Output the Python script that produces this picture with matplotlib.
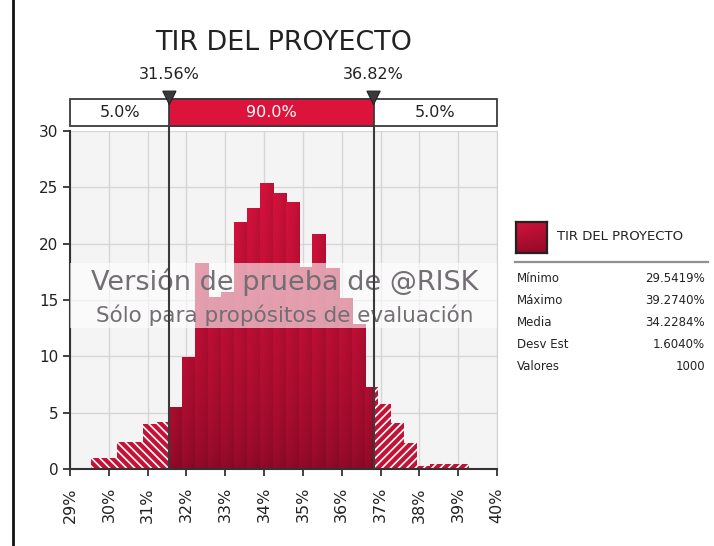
import numpy as np
import matplotlib
matplotlib.use("Agg")
import matplotlib.pyplot as plt
from matplotlib.patches import Rectangle, Polygon
from matplotlib.transforms import blended_transform_factory
from matplotlib.lines import Line2D

# ---------------- data ----------------
title = "TIR DEL PROYECTO"
x_min_val = 29.5419
x_max_val = 39.2740
n_bins = 29
density = [1.0, 1.0, 2.4, 2.4, 4.0, 4.2, 5.5, 9.9, 18.3, 15.3, 15.7, 21.9,
           23.2, 25.4, 24.5, 23.7, 17.9, 20.9, 17.8, 15.2, 12.9, 7.3, 5.8,
           4.1, 2.3, 0.3, 0.45, 0.45, 0.45]
lo_pct, hi_pct = 31.56, 36.82
lo_label, hi_label = "31.56%", "36.82%"
band_labels = ["5.0%", "90.0%", "5.0%"]
xticks = list(range(29, 41))
xtick_labels = [f"{t}%" for t in xticks]
yticks = [0, 5, 10, 15, 20, 25, 30]
stat_names = ["Mínimo", "Máximo", "Media", "Desv Est", "Valores"]
stat_values = ["29.5419%", "39.2740%", "34.2284%", "1.6040%", "1000"]
wm_line1 = "Versión de prueba de @RISK"
wm_line2 = "Sólo para propósitos de evaluación"

# ---------------- styling ----------------
plt.rcParams["font.family"] = ["DejaVu Sans"]
plt.rcParams["hatch.linewidth"] = 1.2
W, H = 714, 546
fig = plt.figure(figsize=(W / 100, H / 100), dpi=100, facecolor="white")

ax_l, ax_r, ax_t, ax_b = 70, 497, 131, 469
ax = fig.add_axes([ax_l / W, 1 - ax_b / H, (ax_r - ax_l) / W, (ax_b - ax_t) / H])
ax.set_facecolor("#f4f4f4")

bright = np.array([214, 18, 60]) / 255
dark = np.array([145, 10, 40]) / 255
ny, nx = 80, 16
t = np.linspace(0, 1, ny)[:, None]
u = np.linspace(0, 1, nx)[None, :]
vert = dark + (bright - dark) * (t ** 0.6)[..., None]
hfac = (1.0 - 0.12 * u ** 1.5)[..., None]
grad = np.clip(vert * hfac, 0, 1)
grad_top = 26.0

edges = np.linspace(x_min_val, x_max_val, n_bins + 1)
for i, h in enumerate(density):
    e0, e1 = edges[i], edges[i + 1]
    s0, s1 = max(e0, lo_pct), min(e1, hi_pct)
    if s1 > s0:
        b = ax.bar(s0, h, width=s1 - s0, align="edge", color="#b80e30",
                   linewidth=0, zorder=2)[0]
        im = ax.imshow(grad, extent=[s0, s1, 0, grad_top], aspect="auto",
                       origin="lower", zorder=2.1, interpolation="bilinear")
        im.set_clip_path(b)
    if e0 < lo_pct:
        ax.bar(e0, h, width=min(e1, lo_pct) - e0, align="edge",
               color="#c41236", edgecolor="white", linewidth=0,
               hatch="\\\\\\\\", zorder=2)
    if e1 > hi_pct:
        a0 = max(e0, hi_pct)
        ax.bar(a0, h, width=e1 - a0, align="edge", color="#c41236",
               edgecolor="white", linewidth=0, hatch="////", zorder=2)

ax.set_xlim(29, 40)
ax.set_ylim(0, 30)
ax.set_xticks(xticks)
ax.set_xticklabels(xtick_labels, rotation=90, fontsize=11.5, color="#222222")
ax.set_yticks(yticks)
ax.set_yticklabels([str(v) for v in yticks], fontsize=11, color="#222222")
ax.grid(True, color="#d6d6d6", linewidth=1.0, zorder=0)
ax.set_axisbelow(True)
ax.tick_params(axis="both", direction="out", length=5, width=1.3, color="#333333")
ax.tick_params(axis="x", pad=8)
for s in ["left", "bottom"]:
    ax.spines[s].set_color("#333333")
    ax.spines[s].set_linewidth(1.5)
ax.spines["top"].set_visible(False)
ax.spines["right"].set_color("#d0d0d0")

tr = blended_transform_factory(ax.transData, ax.transAxes)

# watermark band
ax.add_patch(Rectangle((0, 0.417), 1, 0.192, transform=ax.transAxes,
                       facecolor="white", alpha=0.6, linewidth=0, zorder=3))
ax.text(0.503, 0.553, wm_line1, transform=ax.transAxes, ha="center", va="center",
        fontsize=19.5, color="#736e74", zorder=4)
ax.text(0.503, 0.456, wm_line2, transform=ax.transAxes, ha="center", va="center",
        fontsize=15.5, color="#736e74", zorder=4)

# delimiter lines
for xv in (lo_pct, hi_pct):
    ax.add_line(Line2D([xv, xv], [0, 1.0148], transform=tr, color="#3a3a3a",
                       linewidth=1.5, clip_on=False, zorder=5))

# probability band
b_bot, b_top = 1.0148, 1.0947
ax.add_patch(Rectangle((29, b_bot), 11, b_top - b_bot, transform=tr,
                       facecolor="white", edgecolor="#3a3a3a", linewidth=1.3,
                       clip_on=False, zorder=5))
ax.add_patch(Rectangle((lo_pct, b_bot), hi_pct - lo_pct, b_top - b_bot, transform=tr,
                       facecolor="#dc143c", edgecolor="#3a3a3a", linewidth=1.3,
                       clip_on=False, zorder=5))
bmid = (b_bot + b_top) / 2
ax.text((29 + lo_pct) / 2, bmid, band_labels[0], transform=tr, ha="center",
        va="center", fontsize=11.5, color="#222222", zorder=6)
ax.text((lo_pct + hi_pct) / 2, bmid, band_labels[1], transform=tr, ha="center",
        va="center", fontsize=11.5, color="white", zorder=6)
ax.text((hi_pct + 40) / 2, bmid, band_labels[2], transform=tr, ha="center",
        va="center", fontsize=11.5, color="#222222", zorder=6)

# markers + labels
for xv, lab in ((lo_pct, lo_label), (hi_pct, hi_label)):
    ax.add_patch(Polygon([(xv - 0.17, 1.118), (xv + 0.17, 1.118), (xv, 1.078)],
                         closed=True, transform=tr, facecolor="#3a3a3a",
                         edgecolor="#222222", linewidth=0.8, clip_on=False, zorder=7))
    ax.text(xv, 1.166, lab, transform=tr, ha="center", va="center",
            fontsize=11.5, color="#222222")

# title
fig.text(284 / W, 1 - 43 / H, title, ha="center", va="center", fontsize=19.4,
         color="#222222")

# legend swatch
sw = fig.add_axes([516 / W, 1 - 253 / H, 31 / W, 31 / H])
sw_grad = np.clip(dark + (bright - dark) * (np.linspace(0, 1, 40)[:, None] ** 0.8
                  * (1 - 0.35 * np.linspace(0, 1, 40)[None, :]))[..., None], 0, 1)
sw.imshow(sw_grad, origin="lower", aspect="auto", interpolation="bilinear")
sw.set_xticks([])
sw.set_yticks([])
for s in sw.spines.values():
    s.set_color("#222222")
    s.set_linewidth(1.6)
fig.text(557 / W, 1 - 236 / H, title, ha="left", va="center", fontsize=9.5,
         color="#222222")
fig.add_artist(Line2D([515 / W, 708 / W], [1 - 262 / H, 1 - 262 / H],
                      color="#909090", linewidth=1.6))
row_y = [278, 300, 322, 344, 366]
for name, val, yy in zip(stat_names, stat_values, row_y):
    fig.text(517 / W, 1 - yy / H, name, ha="left", va="center", fontsize=8.5,
             color="#222222")
    fig.text(705 / W, 1 - yy / H, val, ha="right", va="center", fontsize=8.5,
             color="#222222")

# window border on the left
fig.add_artist(Line2D([12.5 / W, 12.5 / W], [0, 1], color="#111111", linewidth=2))

fig.savefig("out.png", dpi=100, facecolor="white")
